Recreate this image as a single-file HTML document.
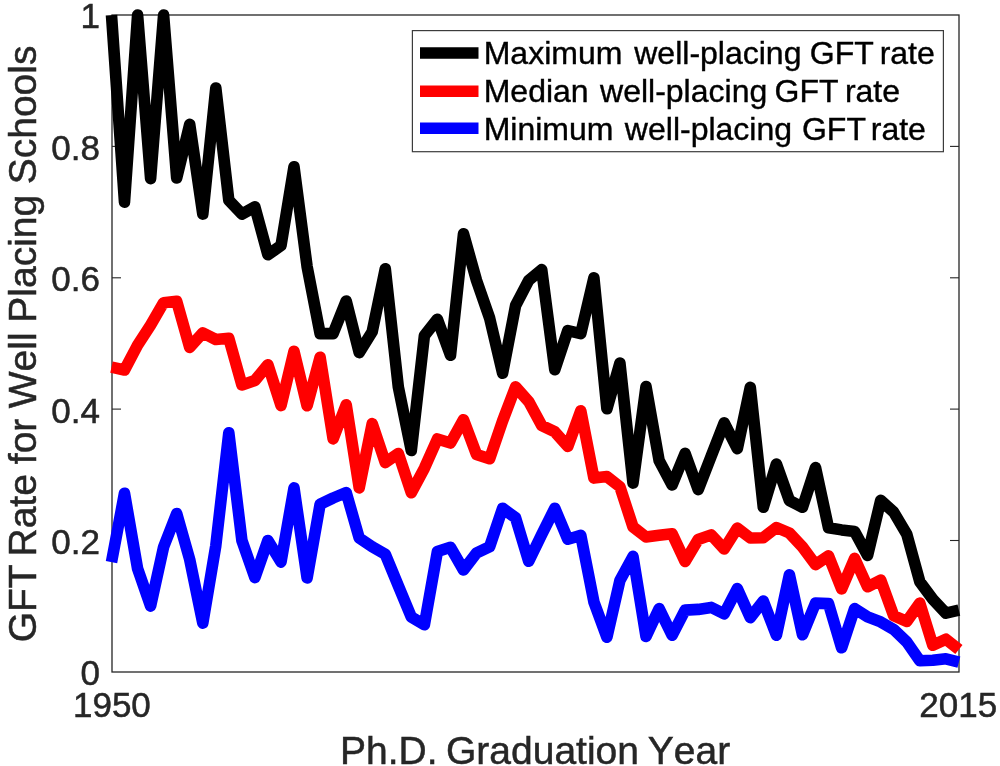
<!DOCTYPE html>
<html><head><meta charset="utf-8"><title>GFT Rate for Well Placing Schools</title>
<style>
html,body{margin:0;padding:0;background:#fff}
svg{display:block}
text{font-family:"Liberation Sans",Arial,Helvetica,sans-serif;fill:#262626}
.tk text{font-size:35px;stroke:#262626;stroke-width:.5px}
.lb{font-size:39px;font-kerning:none;stroke:#262626;stroke-width:.5px}
.lg text{font-size:32px;fill:#000;stroke:#000;stroke-width:.4px}
</style></head><body>
<svg width="1000" height="766" viewBox="0 0 1000 766">
<rect x="0" y="0" width="1000" height="766" fill="#fff"/>
<rect x="112.0" y="15.0" width="847.0" height="657.0" fill="#fff" stroke="#262626" stroke-width="1.3"/>
<g stroke="#262626" stroke-width="1.1"><line x1="112.0" y1="540.5" x2="121.0" y2="540.5"/><line x1="959.0" y1="540.5" x2="950.0" y2="540.5"/><line x1="112.0" y1="409.1" x2="121.0" y2="409.1"/><line x1="959.0" y1="409.1" x2="950.0" y2="409.1"/><line x1="112.0" y1="277.8" x2="121.0" y2="277.8"/><line x1="959.0" y1="277.8" x2="950.0" y2="277.8"/><line x1="112.0" y1="146.4" x2="121.0" y2="146.4"/><line x1="959.0" y1="146.4" x2="950.0" y2="146.4"/></g>
<g fill="none" stroke-width="11.6" stroke-linejoin="round" stroke-linecap="butt">
<polyline stroke="#000000" points="111.5,15.1 124.5,202.1 137.6,15.1 150.6,178.6 163.6,15.1 176.7,178.0 189.7,124.4 202.8,214.1 215.8,88.0 228.8,200.3 241.9,214.1 254.9,206.9 267.9,254.8 281.0,245.6 294.0,166.8 307.1,266.6 320.1,333.6 333.1,333.6 346.2,301.0 359.2,352.6 372.2,331.8 385.3,268.8 398.3,386.8 411.3,450.5 424.4,335.6 437.4,319.2 450.5,355.3 463.5,233.8 476.5,280.4 489.6,318.0 502.6,373.2 515.6,305.5 528.7,280.4 541.7,269.6 554.8,369.7 567.8,330.6 580.8,333.6 593.9,277.8 606.9,408.8 619.9,363.0 633.0,483.1 646.0,386.6 659.1,460.5 672.1,485.0 685.1,453.4 698.2,489.6 711.2,456.2 724.2,422.9 737.3,448.7 750.3,387.3 763.3,507.3 776.4,464.0 789.4,500.5 802.5,507.3 815.5,467.6 828.5,527.7 841.6,529.9 854.6,531.4 867.6,555.4 880.7,500.4 893.7,512.1 906.8,534.2 919.8,581.8 932.8,599.3 945.9,613.2 958.9,610.2"/>
<polyline stroke="#ff0000" points="111.5,367.1 124.5,370.0 137.6,345.1 150.6,325.1 163.6,302.7 176.7,301.2 189.7,347.4 202.8,332.9 215.8,339.5 228.8,338.2 241.9,385.0 254.9,380.5 267.9,364.7 281.0,405.6 294.0,351.3 307.1,405.8 320.1,357.2 333.1,438.9 346.2,404.7 359.2,487.9 372.2,423.6 385.3,462.6 398.3,453.5 411.3,492.7 424.4,468.2 437.4,439.0 450.5,443.0 463.5,419.7 476.5,454.4 489.6,458.8 502.6,420.9 515.6,386.8 528.7,401.6 541.7,425.5 554.8,431.8 567.8,446.4 580.8,410.8 593.9,478.1 606.9,476.6 619.9,486.8 633.0,526.9 646.0,537.0 659.1,535.2 672.1,533.7 685.1,561.5 698.2,539.5 711.2,534.9 724.2,549.0 737.3,528.1 750.3,538.0 763.3,537.7 776.4,527.5 789.4,533.0 802.5,547.0 815.5,564.6 828.5,555.9 841.6,588.9 854.6,558.4 867.6,586.8 880.7,580.1 893.7,615.7 906.8,621.4 919.8,603.1 932.8,645.3 945.9,639.2 958.9,649.5"/>
<polyline stroke="#0000ff" points="111.5,562.1 124.5,493.2 137.6,568.7 150.6,606.1 163.6,547.0 176.7,513.5 189.7,559.5 202.8,623.1 215.8,545.7 228.8,432.8 241.9,540.5 254.9,577.6 267.9,540.5 281.0,562.1 294.0,487.9 307.1,577.9 320.1,504.3 333.1,498.0 346.2,492.5 359.2,538.0 372.2,546.8 385.3,554.3 398.3,585.8 411.3,617.0 424.4,624.8 437.4,551.6 450.5,547.3 463.5,570.0 476.5,552.9 489.6,546.8 502.6,508.3 515.6,517.8 528.7,561.3 541.7,534.5 554.8,508.3 567.8,539.3 580.8,535.4 593.9,601.9 606.9,637.3 619.9,580.5 633.0,556.4 646.0,636.5 659.1,608.6 672.1,635.3 685.1,610.1 698.2,609.4 711.2,607.4 724.2,613.9 737.3,588.6 750.3,617.7 763.3,601.1 776.4,635.3 789.4,574.8 802.5,634.8 815.5,603.1 828.5,603.6 841.6,647.8 854.6,608.6 867.6,616.9 880.7,621.9 893.7,629.4 906.8,642.0 919.8,660.8 932.8,660.3 945.9,658.8 958.9,662.1"/>
</g>
<g class="tk"><text x="100" y="685.4" text-anchor="end">0</text><text x="100" y="554.1" text-anchor="end">0.2</text><text x="100" y="422.7" text-anchor="end">0.4</text><text x="100" y="291.4" text-anchor="end">0.6</text><text x="100" y="160.0" text-anchor="end">0.8</text><text x="100" y="27.7" text-anchor="end">1</text>
<text x="111.9" y="716.6" text-anchor="middle">1950</text>
<text x="958.3" y="716.6" text-anchor="middle">2015</text>
</g>
<text class="lb" y="763.6"><tspan x="340">Ph.D.</tspan> <tspan x="446">Graduation</tspan> <tspan x="647.8">Year</tspan></text>
<text class="lb" transform="translate(36,0) rotate(-90)"><tspan x="-642.3">GFT</tspan> <tspan x="-556.5">Rate</tspan> <tspan x="-464.2">for</tspan> <tspan x="-408.2">Well</tspan> <tspan x="-322.7">Placing</tspan> <tspan x="-184.3">Schools</tspan></text>
<g class="lg">
<rect x="412.4" y="30.6" width="531" height="121.1" fill="#fff" stroke="#3c3c3c" stroke-width="1.2"/>
<line x1="420" y1="53" x2="478.5" y2="53" stroke="#000" stroke-width="11.6"/>
<line x1="420" y1="91.3" x2="478.5" y2="91.3" stroke="#f00" stroke-width="11.6"/>
<line x1="420" y1="128.3" x2="478.5" y2="128.3" stroke="#00f" stroke-width="11.6"/>
<text x="483.7" y="64.3">Maximum <tspan dx="3">well-placing</tspan> <tspan dx="-0.5">GFT</tspan> <tspan dx="-2.5">rate</tspan></text>
<text x="483.7" y="102.3">Median <tspan dx="2.5">well-placing</tspan> <tspan dx="-1.5">GFT</tspan> <tspan dx="-2">rate</tspan></text>
<text x="483.7" y="139.8">Minimum <tspan dx="2.5">well-placing</tspan> <tspan dx="1">GFT</tspan> <tspan dx="-3.5">rate</tspan></text>
</g>
</svg>
</body></html>
